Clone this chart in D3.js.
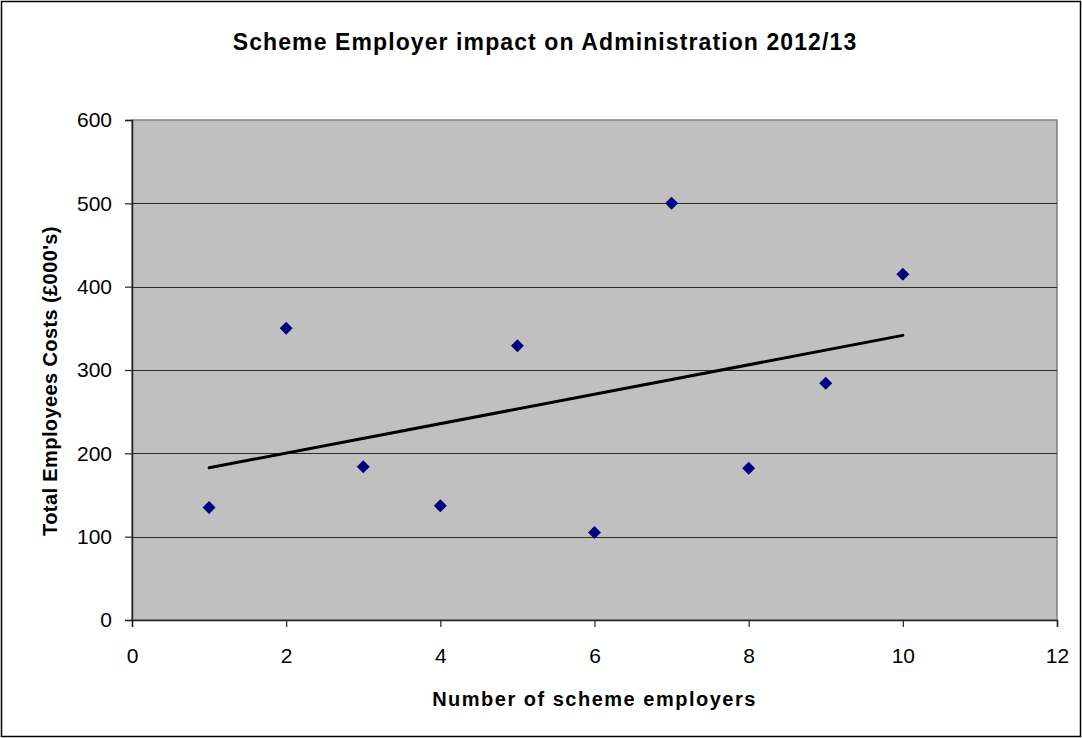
<!DOCTYPE html>
<html><head><meta charset="utf-8">
<script src="https://cdn.jsdelivr.net/npm/d3@7"></script>
<style>
html,body{margin:0;padding:0;background:#fff;}
svg{display:block;font-family:"Liberation Sans",Arial,sans-serif;}
</style></head>
<body>
<svg id="chart" width="1082" height="738"></svg>
<script>
const employers = [1, 2, 3, 4, 5, 6, 7, 8, 9, 10];
const costs = [135, 350, 184, 137, 329, 105, 500, 182, 284, 415];
const xTicks = [0, 2, 4, 6, 8, 10, 12];
const yTicks = [0, 100, 200, 300, 400, 500, 600];
const titleText = "Scheme Employer impact on Administration 2012/13";
const xLabel = "Number of scheme employers";
const yLabel = "Total Employees Costs (\u00a3000's)";

const svg = d3.select("#chart");
const W = 1082, H = 738;
const plot = {left: 132, top: 120, right: 1057, bottom: 620};

svg.append("rect").attr("x", 1.5).attr("y", 1.5).attr("width", W - 3).attr("height", H - 3)
  .attr("fill", "#fff").attr("stroke", "#000").attr("stroke-width", 1.5);

const x = d3.scaleLinear().domain([0, 12]).range([plot.left, plot.right]);
const y = d3.scaleLinear().domain([0, 600]).range([plot.bottom, plot.top]);

svg.append("rect").attr("x", plot.left).attr("y", plot.top)
  .attr("width", plot.right - plot.left).attr("height", plot.bottom - plot.top)
  .attr("fill", "#c0c0c0").attr("stroke", "#808080").attr("stroke-width", 1.5);

// gridlines
svg.append("g").selectAll("line").data(yTicks.filter(d => d > 0 && d < 600)).join("line")
  .attr("x1", plot.left).attr("x2", plot.right)
  .attr("y1", d => Math.round(y(d)) + 0.5).attr("y2", d => Math.round(y(d)) + 0.5)
  .attr("stroke", "#2a2a2a").attr("stroke-width", 1);

// axes
const xAxis = svg.append("g").attr("transform", `translate(0,${plot.bottom})`)
  .call(d3.axisBottom(x).tickValues(xTicks).tickSize(7).tickPadding(21).tickFormat(d3.format("d")));
const yAxis = svg.append("g").attr("transform", `translate(${plot.left},0)`)
  .call(d3.axisLeft(y).tickValues(yTicks).tickSize(7).tickPadding(13).tickFormat(d3.format("d")));
[xAxis, yAxis].forEach(g => {
  g.select(".domain").attr("stroke", "#222").attr("stroke-width", 1.5);
  g.selectAll(".tick line").attr("stroke", "#222").attr("stroke-width", 1.2);
  g.selectAll(".tick text").attr("fill", "#000").attr("font-size", 21)
    .attr("font-family", "'Liberation Sans', Arial, sans-serif");
});

// trendline (least squares from data)
const mx = d3.mean(employers), my = d3.mean(costs);
const slope = d3.sum(employers, (d, i) => (d - mx) * (costs[i] - my)) / d3.sum(employers, d => (d - mx) ** 2);
const intercept = my - slope * mx;
const x0 = d3.min(employers), x1 = d3.max(employers);
svg.append("line")
  .attr("x1", x(x0)).attr("y1", y(intercept + slope * x0))
  .attr("x2", x(x1)).attr("y2", y(intercept + slope * x1))
  .attr("stroke", "#000").attr("stroke-width", 3).attr("stroke-linecap", "round");

// points
const diamond = d3.symbol().type(d3.symbolSquare).size(84);
svg.append("g").selectAll("path").data(employers).join("path")
  .attr("d", diamond)
  .attr("transform", (d, i) => `translate(${x(d)},${y(costs[i])}) rotate(45)`)
  .attr("fill", "#000080");

// titles
svg.append("text").attr("x", 545).attr("y", 50).attr("text-anchor", "middle")
  .attr("font-size", 23).attr("font-weight", "bold").attr("letter-spacing", 1.1).text(titleText);
svg.append("text").attr("x", (plot.left + plot.right) / 2).attr("y", 706).attr("text-anchor", "middle")
  .attr("font-size", 20).attr("font-weight", "bold").attr("letter-spacing", 1.5).text(xLabel);
svg.append("text").attr("transform", `translate(57,381) rotate(-90)`)
  .attr("text-anchor", "middle").attr("font-size", 20).attr("font-weight", "bold")
  .attr("letter-spacing", 0.4).text(yLabel);
</script>
</body></html>
